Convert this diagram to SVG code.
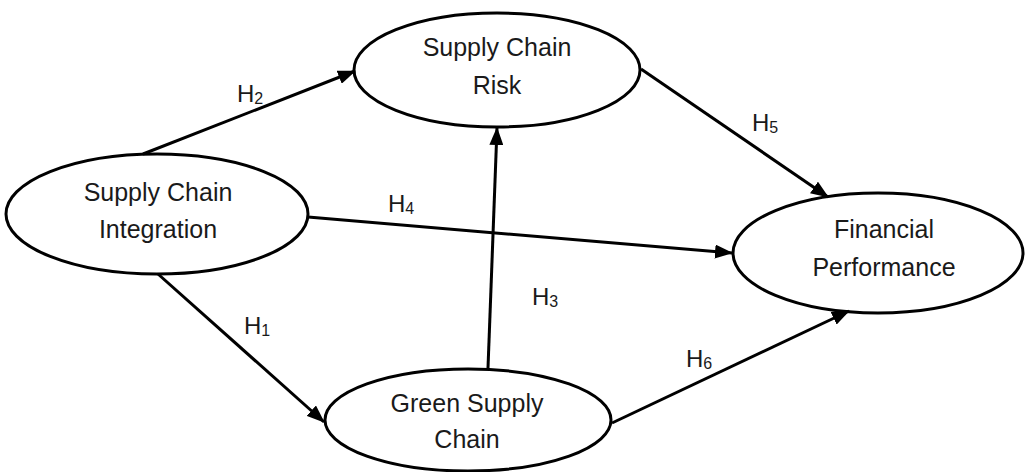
<svg xmlns="http://www.w3.org/2000/svg" width="1025" height="472" viewBox="0 0 1025 472">
<style>
.node ellipse{fill:#fff;stroke:#000;stroke-width:3}
.node text{font-family:"Liberation Sans",Arial,sans-serif;font-size:25px;fill:#1a1a1a;text-anchor:middle}
.edges line{stroke:#000;stroke-width:3;marker-end:url(#ah)}
.lbl{font-family:"Liberation Sans",Arial,sans-serif;font-size:24px;fill:#1a1a1a}
.lbl tspan.s{font-size:16px}
</style>
<defs>
<marker id="ah" markerUnits="userSpaceOnUse" markerWidth="18" markerHeight="14" viewBox="0 0 18 14" refX="17" refY="7" orient="auto">
<path d="M0,0 L18,7 L0,14 Z" fill="#000"/>
</marker>
</defs>
<rect width="1025" height="472" fill="#fff"/>
<g id="n-sci" class="node">
<ellipse cx="157" cy="214" rx="151" ry="60"/>
<text x="158" y="201">Supply Chain</text>
<text x="158" y="238">Integration</text>
</g>
<g id="n-scr" class="node">
<ellipse cx="497" cy="70" rx="143" ry="57"/>
<text x="497" y="56">Supply Chain</text>
<text x="497" y="94">Risk</text>
</g>
<g id="n-fp" class="node">
<ellipse cx="878" cy="253" rx="145" ry="60"/>
<text x="884" y="238">Financial</text>
<text x="884" y="276">Performance</text>
</g>
<g id="n-gsc" class="node">
<ellipse cx="468" cy="420" rx="143" ry="51"/>
<text x="467" y="412">Green Supply</text>
<text x="467" y="448">Chain</text>
</g>
<g id="edges" class="edges">
<line x1="143" y1="154" x2="355" y2="71"/>
<line x1="308" y1="217" x2="732" y2="253"/>
<line x1="641" y1="69" x2="828" y2="197"/>
<line x1="488" y1="368" x2="497" y2="128"/>
<line x1="158" y1="274" x2="324" y2="422"/>
<line x1="612" y1="423" x2="849" y2="311"/>
</g>
<g id="labels">
<text class="lbl" x="237" y="102">H<tspan class="s" dy="2">2</tspan></text>
<text class="lbl" x="388" y="212">H<tspan class="s" dy="2">4</tspan></text>
<text class="lbl" x="752" y="131">H<tspan class="s" dy="2">5</tspan></text>
<text class="lbl" x="532" y="305">H<tspan class="s" dy="2">3</tspan></text>
<text class="lbl" x="244" y="334">H<tspan class="s" dy="2">1</tspan></text>
<text class="lbl" x="686" y="367">H<tspan class="s" dy="2">6</tspan></text>
</g>
</svg>
